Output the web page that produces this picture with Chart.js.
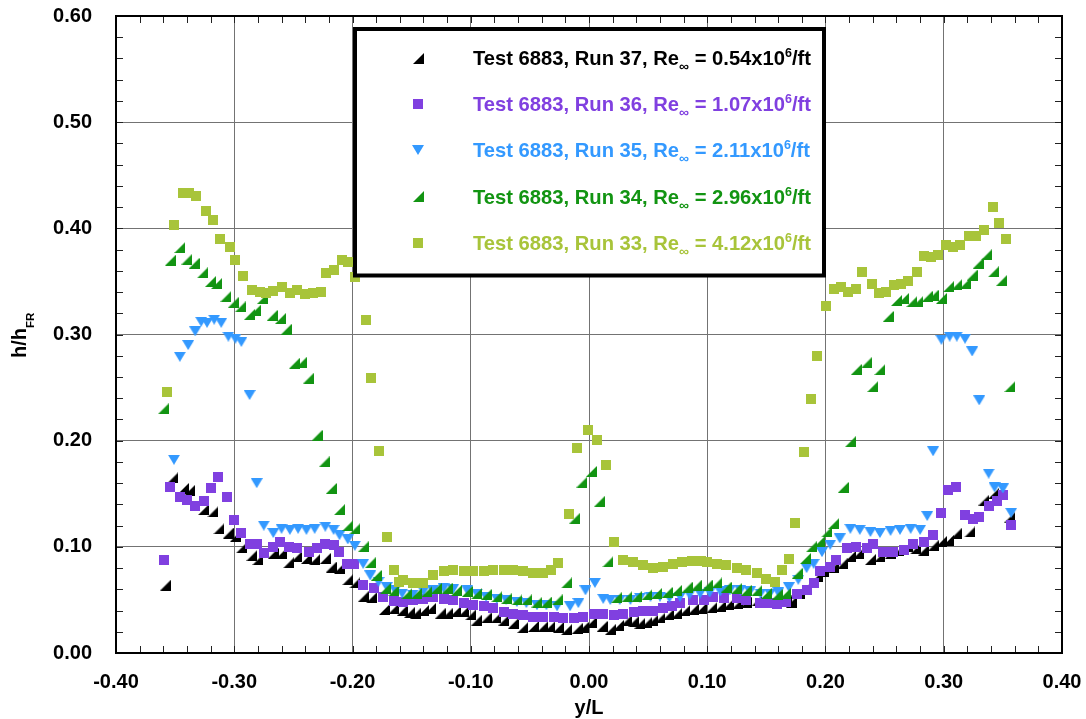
<!DOCTYPE html>
<html>
<head>
<meta charset="utf-8">
<script src="https://cdn.jsdelivr.net/npm/chart.js@4/dist/chart.umd.min.js"></script>
<style>
  html, body { margin: 0; padding: 0; background: #fff; }
  #wrap { width: 1086px; height: 719px; position: relative; }
</style>
</head>
<body>
<div id="wrap"><canvas id="c" width="1086" height="719"></canvas></div>
<script>
// Heat-transfer ratio h/h_FR across the span y/L, five runs of Test 6883.
const xTickValues = [-0.4, -0.3, -0.2, -0.1, 0.0, 0.1, 0.2, 0.3, 0.4];
const yTickValues = [0.0, 0.1, 0.2, 0.3, 0.4, 0.5, 0.6];

const runLabels = ['Run 37', 'Run 36', 'Run 35', 'Run 34', 'Run 33'];
const reynolds = ['0.54', '1.07', '2.11', '2.96', '4.12'];

// [y/L, h/h_FR]
const run37 = [[-0.358,0.064],[-0.352,0.165],[-0.343,0.155],[-0.338,0.153],[-0.326,0.135],[-0.318,0.133],[-0.313,0.117],[-0.305,0.113],[-0.299,0.110],[-0.294,0.099],[-0.285,0.092],[-0.280,0.088],[-0.267,0.094],[-0.260,0.094],[-0.254,0.085],[-0.247,0.091],[-0.239,0.089],[-0.232,0.088],[-0.223,0.089],[-0.218,0.081],[-0.211,0.080],[-0.204,0.069],[-0.198,0.066],[-0.191,0.053],[-0.184,0.052],[-0.173,0.041],[-0.165,0.042],[-0.158,0.040],[-0.152,0.038],[-0.147,0.037],[-0.140,0.040],[-0.134,0.042],[-0.126,0.037],[-0.120,0.037],[-0.113,0.039],[-0.106,0.039],[-0.100,0.036],[-0.095,0.031],[-0.087,0.033],[-0.079,0.033],[-0.072,0.031],[-0.064,0.028],[-0.056,0.024],[-0.047,0.025],[-0.039,0.025],[-0.033,0.025],[-0.026,0.024],[-0.019,0.022],[-0.010,0.023],[-0.005,0.024],[0.002,0.029],[0.011,0.025],[0.018,0.022],[0.025,0.026],[0.032,0.031],[0.038,0.030],[0.043,0.028],[0.049,0.029],[0.054,0.031],[0.060,0.033],[0.067,0.036],[0.074,0.037],[0.081,0.040],[0.088,0.041],[0.095,0.042],[0.104,0.043],[0.111,0.044],[0.118,0.046],[0.126,0.047],[0.133,0.048],[0.142,0.049],[0.150,0.049],[0.159,0.050],[0.167,0.049],[0.171,0.048],[0.178,0.056],[0.184,0.062],[0.193,0.072],[0.198,0.077],[0.207,0.081],[0.214,0.084],[0.221,0.091],[0.228,0.094],[0.238,0.088],[0.246,0.091],[0.255,0.094],[0.262,0.097],[0.269,0.100],[0.276,0.098],[0.283,0.097],[0.291,0.101],[0.298,0.105],[0.304,0.106],[0.311,0.113],[0.322,0.114],[0.334,0.144],[0.342,0.150],[0.356,0.128]];

const run36 = [[-0.359,0.088],[-0.354,0.156],[-0.346,0.147],[-0.340,0.144],[-0.333,0.138],[-0.326,0.143],[-0.320,0.155],[-0.314,0.166],[-0.306,0.147],[-0.300,0.125],[-0.294,0.113],[-0.287,0.103],[-0.281,0.103],[-0.275,0.094],[-0.267,0.100],[-0.261,0.105],[-0.254,0.100],[-0.247,0.099],[-0.237,0.095],[-0.230,0.099],[-0.223,0.103],[-0.216,0.102],[-0.211,0.095],[-0.205,0.084],[-0.199,0.084],[-0.191,0.064],[-0.182,0.061],[-0.174,0.053],[-0.165,0.049],[-0.157,0.048],[-0.149,0.050],[-0.140,0.051],[-0.132,0.053],[-0.123,0.051],[-0.115,0.050],[-0.106,0.047],[-0.098,0.045],[-0.089,0.044],[-0.081,0.042],[-0.072,0.039],[-0.064,0.037],[-0.056,0.036],[-0.047,0.034],[-0.039,0.034],[-0.030,0.034],[-0.022,0.033],[-0.013,0.033],[-0.005,0.034],[0.004,0.037],[0.012,0.037],[0.021,0.036],[0.029,0.037],[0.038,0.039],[0.046,0.040],[0.054,0.040],[0.063,0.042],[0.070,0.044],[0.077,0.047],[0.088,0.050],[0.097,0.050],[0.105,0.053],[0.114,0.052],[0.125,0.052],[0.133,0.050],[0.145,0.047],[0.153,0.047],[0.159,0.046],[0.167,0.048],[0.176,0.056],[0.184,0.059],[0.190,0.066],[0.195,0.077],[0.204,0.081],[0.209,0.088],[0.218,0.099],[0.226,0.100],[0.235,0.099],[0.240,0.103],[0.249,0.095],[0.257,0.095],[0.266,0.097],[0.274,0.103],[0.283,0.105],[0.291,0.111],[0.298,0.132],[0.304,0.154],[0.310,0.156],[0.318,0.130],[0.325,0.126],[0.330,0.128],[0.338,0.138],[0.345,0.143],[0.350,0.149],[0.357,0.121]];

const run35 = [[-0.351,0.182],[-0.346,0.279],[-0.339,0.290],[-0.333,0.303],[-0.328,0.312],[-0.323,0.311],[-0.317,0.314],[-0.311,0.311],[-0.305,0.298],[-0.299,0.296],[-0.294,0.293],[-0.287,0.243],[-0.281,0.160],[-0.275,0.120],[-0.267,0.113],[-0.260,0.117],[-0.253,0.116],[-0.246,0.117],[-0.239,0.116],[-0.232,0.117],[-0.223,0.119],[-0.216,0.116],[-0.211,0.111],[-0.204,0.107],[-0.198,0.101],[-0.191,0.084],[-0.185,0.073],[-0.178,0.067],[-0.171,0.062],[-0.164,0.059],[-0.158,0.056],[-0.149,0.055],[-0.140,0.058],[-0.132,0.059],[-0.123,0.061],[-0.115,0.060],[-0.103,0.059],[-0.095,0.056],[-0.087,0.053],[-0.078,0.051],[-0.070,0.050],[-0.061,0.048],[-0.053,0.047],[-0.044,0.045],[-0.036,0.045],[-0.027,0.044],[-0.016,0.044],[-0.009,0.047],[-0.003,0.059],[0.005,0.066],[0.012,0.051],[0.018,0.050],[0.026,0.050],[0.035,0.050],[0.043,0.052],[0.052,0.053],[0.060,0.053],[0.068,0.052],[0.077,0.053],[0.085,0.055],[0.094,0.056],[0.102,0.057],[0.111,0.058],[0.119,0.059],[0.128,0.059],[0.136,0.058],[0.145,0.056],[0.153,0.056],[0.160,0.057],[0.169,0.062],[0.177,0.069],[0.184,0.080],[0.190,0.084],[0.197,0.095],[0.204,0.102],[0.212,0.108],[0.221,0.117],[0.229,0.116],[0.238,0.114],[0.246,0.113],[0.255,0.115],[0.263,0.116],[0.272,0.117],[0.280,0.116],[0.286,0.129],[0.291,0.190],[0.298,0.295],[0.305,0.298],[0.311,0.298],[0.318,0.296],[0.324,0.284],[0.330,0.238],[0.338,0.169],[0.343,0.156],[0.350,0.155],[0.357,0.132]];

const run34 = [[-0.360,0.230],[-0.354,0.370],[-0.346,0.382],[-0.340,0.371],[-0.334,0.367],[-0.327,0.358],[-0.320,0.350],[-0.315,0.348],[-0.307,0.336],[-0.301,0.330],[-0.295,0.326],[-0.287,0.319],[-0.282,0.323],[-0.276,0.334],[-0.268,0.318],[-0.261,0.315],[-0.256,0.305],[-0.249,0.273],[-0.243,0.274],[-0.237,0.259],[-0.230,0.205],[-0.224,0.180],[-0.218,0.155],[-0.211,0.135],[-0.204,0.120],[-0.198,0.117],[-0.191,0.100],[-0.185,0.085],[-0.180,0.073],[-0.172,0.061],[-0.165,0.059],[-0.154,0.056],[-0.146,0.056],[-0.137,0.058],[-0.129,0.061],[-0.120,0.061],[-0.112,0.059],[-0.103,0.058],[-0.095,0.056],[-0.087,0.055],[-0.078,0.053],[-0.070,0.051],[-0.061,0.050],[-0.053,0.050],[-0.044,0.048],[-0.036,0.048],[-0.027,0.050],[-0.019,0.066],[-0.012,0.127],[-0.006,0.161],[0.002,0.171],[0.009,0.143],[0.016,0.086],[0.023,0.052],[0.032,0.053],[0.040,0.053],[0.049,0.055],[0.057,0.056],[0.066,0.057],[0.074,0.059],[0.083,0.062],[0.091,0.064],[0.100,0.064],[0.108,0.066],[0.116,0.062],[0.125,0.061],[0.133,0.059],[0.142,0.059],[0.150,0.056],[0.159,0.055],[0.166,0.056],[0.176,0.075],[0.183,0.089],[0.188,0.100],[0.195,0.105],[0.201,0.114],[0.207,0.122],[0.215,0.156],[0.221,0.199],[0.226,0.267],[0.235,0.274],[0.240,0.251],[0.246,0.267],[0.253,0.317],[0.260,0.332],[0.266,0.334],[0.273,0.331],[0.278,0.331],[0.286,0.336],[0.291,0.337],[0.298,0.334],[0.304,0.345],[0.311,0.347],[0.318,0.348],[0.324,0.356],[0.329,0.367],[0.336,0.375],[0.342,0.359],[0.349,0.351],[0.356,0.251]];

const run33 = [[-0.357,0.246],[-0.351,0.403],[-0.343,0.433],[-0.338,0.433],[-0.332,0.430],[-0.324,0.416],[-0.318,0.408],[-0.312,0.390],[-0.304,0.382],[-0.299,0.370],[-0.293,0.355],[-0.285,0.342],[-0.278,0.340],[-0.273,0.339],[-0.267,0.341],[-0.260,0.345],[-0.253,0.339],[-0.247,0.342],[-0.240,0.338],[-0.233,0.339],[-0.227,0.340],[-0.222,0.358],[-0.216,0.361],[-0.209,0.370],[-0.204,0.368],[-0.198,0.354],[-0.189,0.314],[-0.184,0.259],[-0.178,0.190],[-0.171,0.109],[-0.165,0.078],[-0.161,0.067],[-0.157,0.069],[-0.149,0.066],[-0.140,0.066],[-0.132,0.073],[-0.123,0.077],[-0.115,0.078],[-0.106,0.077],[-0.098,0.077],[-0.089,0.077],[-0.081,0.078],[-0.072,0.078],[-0.064,0.078],[-0.056,0.077],[-0.047,0.075],[-0.039,0.075],[-0.032,0.078],[-0.026,0.085],[-0.017,0.131],[-0.010,0.193],[-0.001,0.210],[0.007,0.201],[0.014,0.177],[0.021,0.105],[0.029,0.088],[0.037,0.086],[0.046,0.083],[0.054,0.080],[0.063,0.081],[0.071,0.084],[0.079,0.086],[0.087,0.087],[0.095,0.087],[0.100,0.086],[0.108,0.084],[0.116,0.083],[0.125,0.080],[0.133,0.078],[0.142,0.075],[0.150,0.070],[0.157,0.067],[0.163,0.078],[0.169,0.089],[0.174,0.122],[0.182,0.189],[0.188,0.239],[0.193,0.280],[0.200,0.327],[0.207,0.343],[0.213,0.345],[0.219,0.340],[0.226,0.343],[0.231,0.359],[0.239,0.348],[0.245,0.339],[0.251,0.340],[0.258,0.347],[0.264,0.348],[0.270,0.350],[0.277,0.359],[0.283,0.374],[0.289,0.373],[0.295,0.375],[0.302,0.384],[0.308,0.382],[0.314,0.384],[0.321,0.393],[0.327,0.393],[0.334,0.398],[0.342,0.420],[0.347,0.405],[0.353,0.390]];

const FONT = '"Liberation Sans", Arial, Helvetica, sans-serif';
const colors = ['#000000', '#8040e0', '#3399ff', '#129412', '#a8c43a'];

// Marker glyphs rendered once and used as Chart.js point styles
function marker(shape, color) {
  const c = document.createElement('canvas');
  const g = c.getContext('2d');
  if (shape === 'corner') {            // right triangle, right angle at lower right
    c.width = 11; c.height = 11;
    g.fillStyle = color;
    g.beginPath(); g.moveTo(11, 0); g.lineTo(11, 11); g.lineTo(0, 11); g.closePath(); g.fill();
  } else if (shape === 'square') {
    c.width = 10; c.height = 10;
    g.fillStyle = color;
    g.fillRect(0, 0, 10, 10);
  } else {                              // downward triangle
    c.width = 12; c.height = 10;
    g.fillStyle = color;
    g.beginPath(); g.moveTo(0, 0); g.lineTo(12, 0); g.lineTo(6, 10); g.closePath(); g.fill();
  }
  return c;
}
const markers = [
  marker('corner', colors[0]),
  marker('square', colors[1]),
  marker('down', colors[2]),
  marker('corner', colors[3]),
  marker('square', colors[4])
];
const seriesData = [run37, run36, run35, run34, run33];

const datasets = seriesData.map((pts, i) => ({
  label: 'Test 6883, ' + runLabels[i],
  data: pts.map(p => ({ x: p[0], y: p[1] })),
  pointStyle: markers[i],
  pointRadius: 5,
  showLine: false,
  order: 5 - i            // later runs drawn on top
}));

function fmt(v) { return (Math.abs(v) < 1e-9 ? 0 : v).toFixed(2); }

// Draws text runs with sub/superscripts; returns end x
function richText(ctx, parts, x, y) {
  let cx = x;
  parts.forEach(p => {
    ctx.font = 'bold ' + p.size + 'px ' + FONT;
    ctx.fillText(p.t, cx, y + (p.dy || 0));
    cx += ctx.measureText(p.t).width;
  });
  return cx;
}

const decor = {
  id: 'decor',
  afterDatasetsDraw(chart) {
    const { ctx, chartArea: a, scales: { x, y } } = chart;
    ctx.save();

    // inward minor ticks on all four sides
    ctx.strokeStyle = '#222';
    ctx.lineWidth = 1;
    ctx.beginPath();
    for (let i = 0; i <= 40; i++) {
      const px = Math.round(x.getPixelForValue(-0.4 + i * 0.02)) + 0.5;
      ctx.moveTo(px, a.bottom); ctx.lineTo(px, a.bottom - 7);
      ctx.moveTo(px, a.top); ctx.lineTo(px, a.top + 7);
    }
    for (let i = 0; i <= 30; i++) {
      const py = Math.round(y.getPixelForValue(i * 0.02)) + 0.5;
      ctx.moveTo(a.left, py); ctx.lineTo(a.left + 7, py);
      ctx.moveTo(a.right, py); ctx.lineTo(a.right - 7, py);
    }
    ctx.stroke();

    // legend box
    const bx = a.left + 239, by = a.top + 13, bw = 469, bh = 246.5;
    ctx.fillStyle = '#fff';
    ctx.fillRect(bx, by, bw, bh);
    ctx.lineWidth = 4;
    ctx.strokeStyle = '#000';
    ctx.strokeRect(bx, by, bw, bh);
    ctx.textBaseline = 'alphabetic';
    ctx.textAlign = 'left';
    for (let i = 0; i < 5; i++) {
      const base = by + 36 + i * 46.2;
      const m = markers[i];
      ctx.drawImage(m, Math.round(bx + 63 - m.width / 2), Math.round(base - 7 - m.height / 2));
      ctx.fillStyle = colors[i];
      richText(ctx, [
        { t: 'Test 6883, ' + runLabels[i] + ', Re', size: 20.2 },
        { t: '\u221e', size: 14, dy: 6 },
        { t: ' = ' + reynolds[i] + 'x10', size: 20.2 },
        { t: '6', size: 12.5, dy: -8 },
        { t: '/ft', size: 20.2 }
      ], bx + 118, base);
    }

    // plot frame
    ctx.lineWidth = 2;
    ctx.strokeStyle = '#000';
    ctx.strokeRect(a.left, a.top, a.right - a.left, a.bottom - a.top);

    // axis titles
    ctx.fillStyle = '#000';
    ctx.font = 'bold 20px ' + FONT;
    ctx.textAlign = 'center';
    ctx.fillText('y/L', (a.left + a.right) / 2, 714);

    ctx.save();
    ctx.translate(25.5, 358);
    ctx.rotate(-Math.PI / 2);
    ctx.textAlign = 'left';
    richText(ctx, [
      { t: 'h/h', size: 20 },
      { t: 'FR', size: 11.5, dy: 8 }
    ], 0, 0);
    ctx.restore();

    ctx.restore();
  }
};

const tickFont = { family: FONT, size: 20, weight: 'bold' };

new Chart(document.getElementById('c'), {
  type: 'scatter',
  data: { datasets },
  options: {
    responsive: false,
    animation: false,
    devicePixelRatio: 1,
    layout: { padding: { left: 0, right: 24, top: 16, bottom: 0 } },
    plugins: { legend: { display: false }, tooltip: { enabled: false } },
    scales: {
      x: {
        type: 'linear', min: -0.4, max: 0.4,
        afterBuildTicks: s => { s.ticks = xTickValues.map(v => ({ value: v })); },
        afterFit: s => { s.height = 66; s.paddingLeft = 0; s.paddingRight = 0; },
        grid: { color: '#737373', lineWidth: 1, drawTicks: false },
        border: { display: false },
        ticks: { padding: 17, color: '#000', font: tickFont, maxRotation: 0, autoSkip: false, callback: v => fmt(v) }
      },
      y: {
        type: 'linear', min: 0, max: 0.6,
        afterBuildTicks: s => { s.ticks = yTickValues.map(v => ({ value: v })); },
        afterFit: s => { s.width = 116; s.paddingTop = 0; s.paddingBottom = 0; },
        grid: { color: '#737373', lineWidth: 1, drawTicks: false },
        border: { display: false },
        ticks: { padding: 24, color: '#000', font: tickFont, autoSkip: false, callback: v => fmt(v) }
      }
    }
  },
  plugins: [decor]
});
</script>
</body>
</html>
